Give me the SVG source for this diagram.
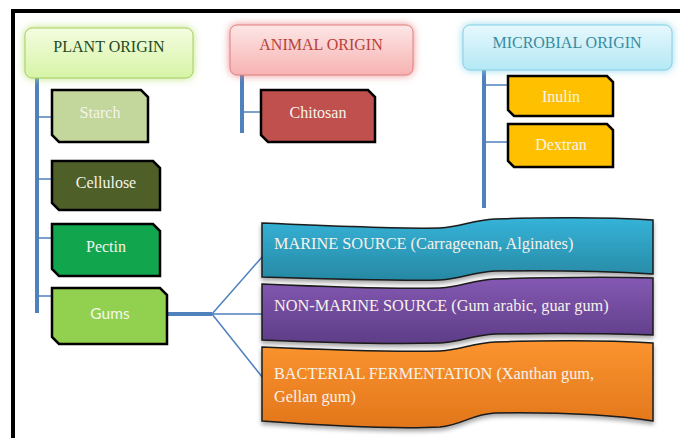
<svg xmlns="http://www.w3.org/2000/svg" width="680" height="438" viewBox="0 0 680 438">
<style>
text{font-family:"Liberation Serif","Times New Roman","DejaVu Serif",serif;}
.hdr{font-size:16px;text-anchor:middle;}
.lbl{font-size:16px;text-anchor:middle;fill:#f4f4ec;}
.wtxt{font-size:16.3px;fill:#f6f2ea;}
.chip{stroke:#000;stroke-width:2.5;stroke-linejoin:miter;}
.vline{stroke:#4f81bd;stroke-width:4;fill:none;}
.hline{stroke:#4f81bd;stroke-width:1.5;fill:none;}
.wave{stroke:#1a1a1a;stroke-width:1.5;}
</style>
<defs>
<linearGradient id="gPlant" x1="0" y1="0" x2="0" y2="1"><stop offset="0" stop-color="#f4fde0"/><stop offset="1" stop-color="#d6f4a6"/></linearGradient>
<linearGradient id="gAnimal" x1="0" y1="0" x2="0" y2="1"><stop offset="0" stop-color="#fde6e6"/><stop offset="1" stop-color="#f7b2b2"/></linearGradient>
<linearGradient id="gMicro" x1="0" y1="0" x2="0" y2="1"><stop offset="0" stop-color="#e6f8fd"/><stop offset="1" stop-color="#b4e8f6"/></linearGradient>
<linearGradient id="gMarine" x1="0" y1="0" x2="0" y2="1"><stop offset="0" stop-color="#35b3d8"/><stop offset="1" stop-color="#2788a3"/></linearGradient>
<linearGradient id="gNon" x1="0" y1="0" x2="0" y2="1"><stop offset="0" stop-color="#8459b3"/><stop offset="1" stop-color="#5e3d88"/></linearGradient>
<linearGradient id="gBac" x1="0" y1="0" x2="0" y2="1"><stop offset="0" stop-color="#fb942f"/><stop offset="1" stop-color="#e2761b"/></linearGradient>
<filter id="glow" x="-20%" y="-40%" width="140%" height="180%"><feGaussianBlur stdDeviation="4"/></filter>
<filter id="shadow" x="-5%" y="-10%" width="110%" height="130%"><feDropShadow dx="0" dy="3" stdDeviation="2" flood-color="#000" flood-opacity="0.35"/></filter>
</defs>
<rect width="680" height="438" fill="#fff"/>
<g id="frame">
<line x1="11" y1="11" x2="680" y2="11" stroke="#000" stroke-width="4"/>
<line x1="13" y1="9" x2="13" y2="438" stroke="#000" stroke-width="4"/>
</g>
<g id="connectors">
<line class="vline" x1="37" y1="76" x2="37" y2="313"/>
<line class="hline" x1="37" y1="117" x2="52" y2="117"/>
<line class="hline" x1="37" y1="179" x2="52" y2="179"/>
<line class="hline" x1="37" y1="238" x2="52" y2="238"/>
<line class="hline" x1="37" y1="296" x2="52" y2="296"/>
<line class="vline" x1="242" y1="73" x2="242" y2="133"/>
<line class="hline" x1="242" y1="112" x2="261" y2="112"/>
<line class="vline" x1="484" y1="68" x2="484" y2="208"/>
<line class="hline" x1="484" y1="85" x2="508" y2="85"/>
<line class="hline" x1="484" y1="142" x2="508" y2="142"/>
<line class="vline" x1="167" y1="314" x2="212" y2="314"/>
<line class="hline" x1="212" y1="314" x2="263" y2="256"/>
<line class="hline" x1="212" y1="314" x2="263" y2="314"/>
<line class="hline" x1="212" y1="314" x2="263" y2="378"/>
</g>
<g id="plant-origin">
<rect x="25" y="28" width="168" height="50" rx="7" fill="#b8e070" filter="url(#glow)"/>
<rect x="25" y="28" width="168" height="50" rx="7" fill="url(#gPlant)" stroke="#a6cf62" stroke-width="1"/>
<text class="hdr" x="109" y="52" fill="#1e4a22" font-family="Liberation Serif, serif">PLANT ORIGIN</text>
</g>
<g id="animal-origin">
<rect x="230" y="25" width="183" height="50" rx="7" fill="#e88080" filter="url(#glow)"/>
<rect x="230" y="25" width="183" height="50" rx="7" fill="url(#gAnimal)" stroke="#e08080" stroke-width="1"/>
<text class="hdr" x="321" y="50" fill="#b6423a" font-family="Liberation Serif, serif">ANIMAL ORIGIN</text>
</g>
<g id="microbial-origin">
<rect x="463" y="25" width="209" height="45" rx="7" fill="#86d3ea" filter="url(#glow)"/>
<rect x="463" y="25" width="209" height="45" rx="7" fill="url(#gMicro)" stroke="#86cfe4" stroke-width="1"/>
<text class="hdr" x="567" y="48" fill="#3a8b9e" font-family="Liberation Serif, serif">MICROBIAL ORIGIN</text>
</g>
<g id="starch">
<path class="chip" d="M52,90 L141,90 L148,97 L148,142 L59,142 L52,135 Z" fill="#c3d69b"/>
<text class="lbl" x="100" y="118" font-family="Liberation Serif, serif">Starch</text>
</g>
<g id="cellulose">
<path class="chip" d="M52,161 L153,161 L160,168 L160,210 L59,210 L52,203 Z" fill="#4f5f28"/>
<text class="lbl" x="106" y="188" font-family="Liberation Serif, serif">Cellulose</text>
</g>
<g id="pectin">
<path class="chip" d="M52,224 L153,224 L160,231 L160,276 L59,276 L52,269 Z" fill="#11a64e"/>
<text class="lbl" x="106" y="252" font-family="Liberation Serif, serif">Pectin</text>
</g>
<g id="gums">
<path class="chip" d="M52,288 L160,288 L167,295 L167,344 L59,344 L52,337 Z" fill="#92d050"/>
<text x="110" y="319" style="font-family:Lato,'Open Sans',sans-serif" font-size="15.5" text-anchor="middle" fill="#f4f8ec">Gums</text>
</g>
<g id="chitosan">
<path class="chip" d="M261,90 L368,90 L375,97 L375,142 L268,142 L261,135 Z" fill="#c0504d"/>
<text class="lbl" x="318" y="118" font-family="Liberation Serif, serif">Chitosan</text>
</g>
<g id="inulin">
<path class="chip" d="M508,76 L607,76 L613,82 L613,116 L514,116 L508,110 Z" fill="#ffc000"/>
<text class="lbl" x="561" y="102" font-family="Liberation Serif, serif">Inulin</text>
</g>
<g id="dextran">
<path class="chip" d="M508,124 L607,124 L613,130 L613,167 L514,167 L508,161 Z" fill="#ffc000"/>
<text class="lbl" x="561" y="150" font-family="Liberation Serif, serif">Dextran</text>
</g>
<g id="marine">
<path class="wave" filter="url(#shadow)" fill="url(#gMarine)" d="M262,223 C330,226 400,229 440,228 C462,227 472,220 495,219 C565,217 620,218 653,220 L653,274 C620,272 565,270 495,271 C472,272 462,279 440,280 C400,281 330,279 262,277 Z"/>
<text class="wtxt" x="274" y="249" font-family="Liberation Serif, serif">MARINE SOURCE (Carrageenan, Alginates)</text>
</g>
<g id="non-marine">
<path class="wave" filter="url(#shadow)" fill="url(#gNon)" d="M262,284 C330,287 400,289 440,288 C462,287 472,280 495,279 C565,277 620,277 653,278 L653,335 C620,334 565,333 495,334 C472,335 462,342 440,343 C400,344 330,343 262,340 Z"/>
<text class="wtxt" x="274" y="311" font-family="Liberation Serif, serif">NON-MARINE SOURCE (Gum arabic, guar gum)</text>
</g>
<g id="bacterial">
<path class="wave" filter="url(#shadow)" fill="url(#gBac)" d="M262,347 C330,350 400,352 440,351 C462,350 472,343 495,342 C565,340 620,341 653,343 L653,421 C620,416 565,412 495,413 C472,414 462,425 440,427 C400,429 330,426 262,421 Z"/>
<text class="wtxt" x="274" y="379" font-family="Liberation Serif, serif">BACTERIAL FERMENTATION (Xanthan gum,</text>
<text class="wtxt" x="274" y="402" font-family="Liberation Serif, serif">Gellan gum)</text>
</g>
</svg>
